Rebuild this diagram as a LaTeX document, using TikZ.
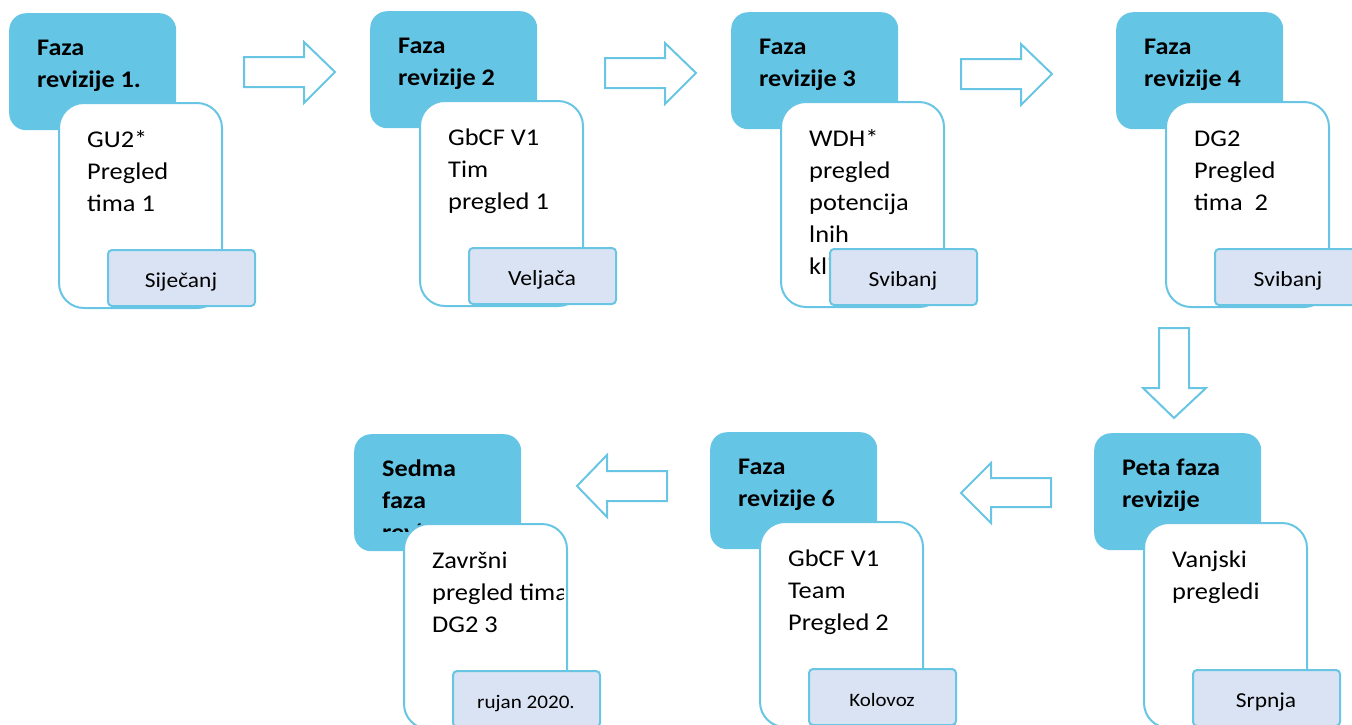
\documentclass[tikz,border=0pt]{standalone}
\usepackage{fontspec}
\setmainfont{Carlito}[FakeStretch=1.1]
\definecolor{hdrblue}{RGB}{100,197,229}
\definecolor{lineblue}{RGB}{104,198,228}
\definecolor{monthfill}{RGB}{218,227,243}
\tikzset{
  hdrbox/.style={draw=none, fill=hdrblue, rounded corners=17pt, minimum width=167pt, minimum height=117pt, anchor=north west, inner sep=0pt},
  cardbox/.style={draw=lineblue, line width=2pt, fill=white, rounded corners=25pt, minimum width=163pt, minimum height=205pt, anchor=north west, inner sep=0pt},
  monthbox/.style={draw=lineblue, line width=2pt, fill=monthfill, rounded corners=4pt, minimum width=147pt, minimum height=56pt, anchor=north west, inner sep=0pt},
  hdrtext/.style={anchor=base west, inner sep=0pt, font=\fontsize{23.8}{32}\selectfont\bfseries},
  bodytext/.style={anchor=base west, inner sep=0pt, font=\fontsize{24}{32}\selectfont},
  monthtext/.style={anchor=base, inner sep=0pt},
  blockarrow/.style={draw=lineblue, line width=2pt, fill=white, line join=miter}
}
\newcommand\phaseblock[7]{%
  \begin{scope}[shift={(#2,#3)}]
    \node[hdrbox] (h#1) at (0,0) {};
    \begin{scope}
      \clip (0,0) rectangle (167,97);
      \node[hdrtext] (ht#1) at (28,42) {\begin{tabular}[t]{@{}l@{}}#4\end{tabular}};
    \end{scope}
    \node[cardbox] (c#1) at (49,89) {};
    \begin{scope}
      \clip (51,91) rectangle (209,292);
      \node[bodytext] (bt#1) at (78,134) {\begin{tabular}[t]{@{}l@{}}#5\end{tabular}};
    \end{scope}
    \node[monthbox] (m#1) at (98,236) {};
    \node[monthtext, font=\fontsize{#7}{#7}\selectfont] (mt#1) at (172,274) {#6};
  \end{scope}}
\begin{document}
\begin{tikzpicture}[x=1pt,y=-1pt]
\useasboundingbox (0,0) rectangle (1352,724);
% top row
\phaseblock{1}{9}{13}{Faza\\revizije 1.}{GU2*\\Pregled\\tima 1}{Siječanj}{21.3}
\phaseblock{2}{370}{11}{Faza\\revizije 2}{GbCF V1\\Tim\\pregled 1}{Veljača}{21.6}
\phaseblock{3}{731}{12}{Faza\\revizije 3}{WDH*\\pregled\\potencija\\lnih\\kli}{Svibanj}{21.5}
\phaseblock{4}{1116}{12}{Faza\\revizije 4}{DG2\\Pregled\\tima\ \ 2}{Svibanj}{21.5}
% bottom row
\phaseblock{5}{1094}{433}{Peta faza\\revizije}{Vanjski\\pregledi}{Srpnja}{21.3}
\phaseblock{6}{710}{432}{Faza\\revizije 6}{GbCF V1\\Team\\Pregled 2}{Kolovoz}{19}
\phaseblock{7}{354}{434}{Sedma\\faza\\revizije}{Završni\\pregled tima\\DG2 3}{rujan 2020.}{19.2}
% right arrows
\draw[blockarrow] (244,57) -- (304,57) -- (304,42) -- (335,72) -- (304,103) -- (304,87) -- (244,87) -- cycle;
\draw[blockarrow] (605,58) -- (665,58) -- (665,43) -- (696,73) -- (665,104) -- (665,88) -- (605,88) -- cycle;
\draw[blockarrow] (961,59) -- (1021,59) -- (1021,44) -- (1052,74) -- (1021,105) -- (1021,89) -- (961,89) -- cycle;
% down arrow
\draw[blockarrow] (1159,328) -- (1189,328) -- (1189,388) -- (1206,388) -- (1174,418) -- (1143,388) -- (1159,388) -- cycle;
% left arrows
\draw[blockarrow] (1051,478) -- (991,478) -- (991,463) -- (961,493) -- (991,523) -- (991,507) -- (1051,507) -- cycle;
\draw[blockarrow] (667,471) -- (607,471) -- (607,455) -- (577,486) -- (607,517) -- (607,501) -- (667,501) -- cycle;
\end{tikzpicture}
\end{document}
